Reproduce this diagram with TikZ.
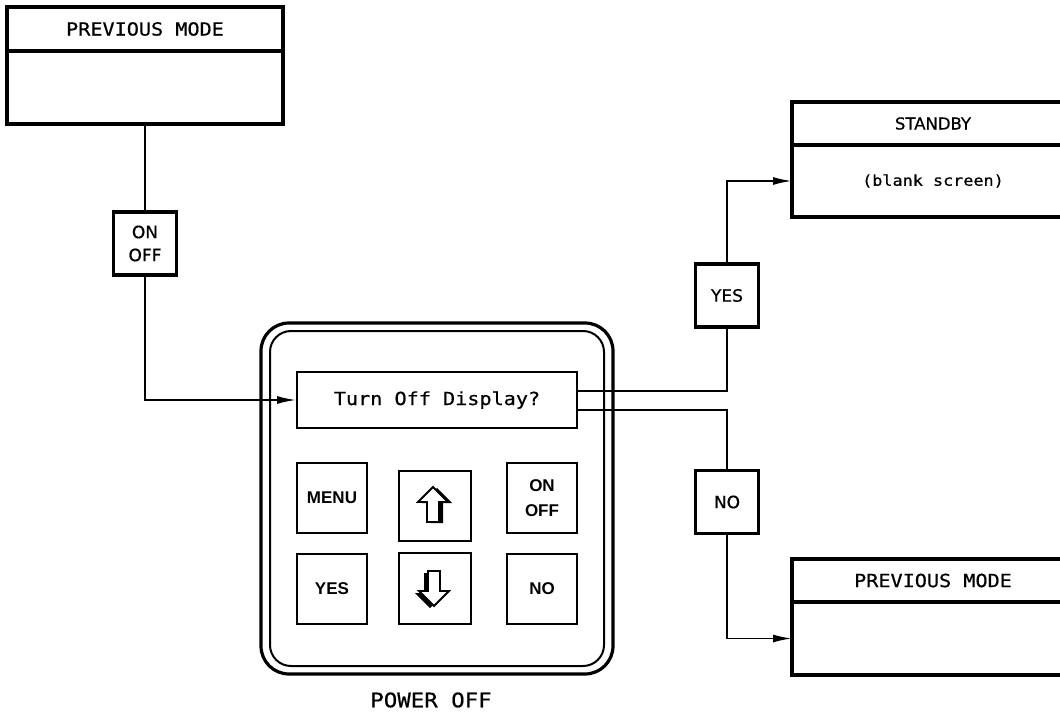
\documentclass[tikz,border=0pt]{standalone}
\usepackage{fontspec}
\usepackage{tikz}
\usetikzlibrary{positioning,arrows.meta}
\newfontfamily\cadmono[FakeStretch=1.12,FakeBold=0.6]{DejaVu Sans Mono}
\newfontfamily\cadsans[FakeBold=0.6]{DejaVu Sans}
\newfontfamily\keysans{Liberation Sans}

\begin{document}
\begin{tikzpicture}[x=1pt,y=-1pt,
  modebox/.style={draw,line width=3.2pt,minimum width=282pt,inner sep=0pt,outer sep=0pt},
  tagbox/.style={draw,line width=3.2pt,minimum width=63pt,minimum height=63pt,inner sep=0pt,align=center,font=\cadsans\fontsize{17}{23}\selectfont},
  keybox/.style={draw,line width=1.8pt,minimum width=70pt,minimum height=70pt,inner sep=0pt,align=center,font=\keysans\bfseries\fontsize{17}{25}\selectfont},
  wire/.style={line width=1.8pt},
  flow/.style={wire,-{Latex[length=19pt,width=8pt]}}]
\fill[white] (0,0) rectangle (1060,717);
\useasboundingbox (0,0) rectangle (1060,717);
\clip (0,0) rectangle (1060,717);

% Previous mode (top left)
\node[modebox,minimum width=276pt,minimum height=44pt,font=\cadmono\fontsize{18}{18}\selectfont] (prevtop) at (145,29) {PREVIOUS MODE};
\node[modebox,minimum width=276pt,minimum height=73pt,below=0pt of prevtop] (prevbody) {};

% Standby
\node[modebox,minimum height=43pt,font=\cadsans\fontsize{16.5}{16.5}\selectfont] (sbtop) at (933,123.5) {STANDBY};
\node[modebox,minimum height=72pt,below=0pt of sbtop,font=\cadmono\fontsize{15}{15}\selectfont] (sbbody) {(blank screen)};

% Previous mode (bottom right)
\node[modebox,minimum height=43pt,font=\cadmono\fontsize{18}{18}\selectfont] (backtop) at (933,580.5) {PREVIOUS MODE};
\node[modebox,minimum height=73pt,below=0pt of backtop] (backbody) {};

% Keypad
\node[draw,line width=3.2pt,rounded corners=28pt,minimum width=352pt,minimum height=351pt] (padout) at (437,498.5) {};
\node[draw,line width=2pt,rounded corners=21pt,minimum width=334pt,minimum height=335pt] (padin) at (437,498.5) {};
\node[draw,line width=1.8pt,minimum width=280pt,minimum height=56pt,font=\cadmono\fontsize{18}{18}\selectfont] (disp) at (437,400) {Turn Off Display?};
\foreach \name/\x/\y/\txt in {menu/332/498/MENU, onoff/542/498/{ON\\OFF}, yes/332/589/YES, no/542/589/NO} {
  \node[keybox] (key-\name) at (\x,\y) {\txt};
}
\node[keybox,minimum width=72pt] (key-up) at (435,506) {};
\node[keybox,minimum width=72pt,minimum height=71pt] (key-down) at (435,588.5) {};
% Hollow arrows with shadow
\fill[shift={(437,506)}] (0,-18) -- (15,-3) -- (6,-3) -- (6,17) -- (-6,17) -- (-6,-3) -- (-15,-3) -- cycle;
\draw[wire,fill=white,shift={(433,505)}] (0,-18) -- (15,-3) -- (6,-3) -- (6,17) -- (-6,17) -- (-6,-3) -- (-15,-3) -- cycle;
\fill[shift={(430,590)}] (0,18) -- (15,3) -- (6,3) -- (6,-17) -- (-6,-17) -- (-6,3) -- (-15,3) -- cycle;
\draw[wire,fill=white,shift={(434,588)}] (0,18) -- (15,3) -- (6,3) -- (6,-17) -- (-6,-17) -- (-6,3) -- (-15,3) -- cycle;
\node[font=\cadmono\fontsize{20}{20}\selectfont] (poweroff) at (431,700) {POWER OFF};

% Key tags
\node[tagbox] (tag-onoff) at (145,243.5) {ON\\OFF};
\node[tagbox] (tag-yes) at (727,295.5) {YES};
\node[tagbox] (tag-no) at (727,502) {NO};

% Connectors
\draw[wire] (prevbody.south) -- (tag-onoff.north);
\draw[flow] (tag-onoff.south) |- (disp.west);
\draw[wire] ([yshift=9pt]disp.east) -| (tag-yes.south);
\draw[flow] (tag-yes.north) |- (sbbody.west);
\draw[wire] ([yshift=-10pt]disp.east) -| (tag-no.north);
\draw[flow] (tag-no.south) |- (backbody.west);
\end{tikzpicture}
\end{document}
